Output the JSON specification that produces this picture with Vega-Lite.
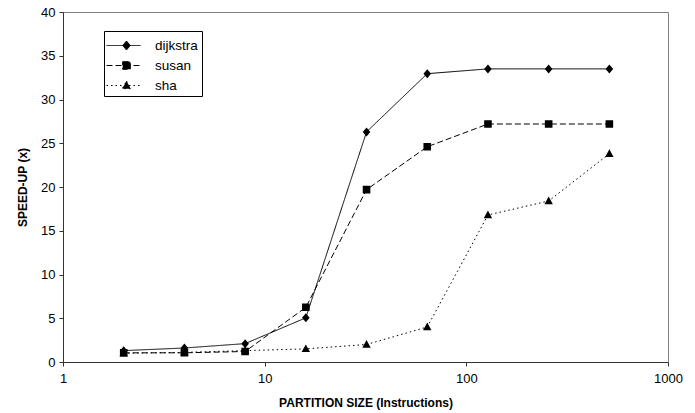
{
  "$schema": "https://vega.github.io/schema/vega-lite/v6.json",
  "width": 605,
  "height": 350,
  "autosize": "none",
  "padding": {"left": 63, "top": 12, "right": 27, "bottom": 51},
  "background": "white",
  "config": {
    "font": "Liberation Sans",
    "view": {"stroke": "#808080", "strokeWidth": 1}
  },
  "data": {
    "values": [
      {"size": 2, "series": "dijkstra", "speedup": 1.3},
      {"size": 4, "series": "dijkstra", "speedup": 1.6},
      {"size": 8, "series": "dijkstra", "speedup": 2.1},
      {"size": 16, "series": "dijkstra", "speedup": 5.05},
      {"size": 32, "series": "dijkstra", "speedup": 26.3},
      {"size": 64, "series": "dijkstra", "speedup": 32.95},
      {"size": 128, "series": "dijkstra", "speedup": 33.5},
      {"size": 256, "series": "dijkstra", "speedup": 33.5},
      {"size": 512, "series": "dijkstra", "speedup": 33.5},
      {"size": 2, "series": "susan", "speedup": 1.05},
      {"size": 4, "series": "susan", "speedup": 1.05},
      {"size": 8, "series": "susan", "speedup": 1.2},
      {"size": 16, "series": "susan", "speedup": 6.25},
      {"size": 32, "series": "susan", "speedup": 19.7},
      {"size": 64, "series": "susan", "speedup": 24.6},
      {"size": 128, "series": "susan", "speedup": 27.2},
      {"size": 256, "series": "susan", "speedup": 27.2},
      {"size": 512, "series": "susan", "speedup": 27.2},
      {"size": 2, "series": "sha", "speedup": 1.0},
      {"size": 4, "series": "sha", "speedup": 1.1},
      {"size": 8, "series": "sha", "speedup": 1.3},
      {"size": 16, "series": "sha", "speedup": 1.5},
      {"size": 32, "series": "sha", "speedup": 2.0},
      {"size": 64, "series": "sha", "speedup": 4.0},
      {"size": 128, "series": "sha", "speedup": 16.8},
      {"size": 256, "series": "sha", "speedup": 18.4},
      {"size": 512, "series": "sha", "speedup": 23.8}
    ]
  },
  "encoding": {
    "x": {
      "field": "size",
      "type": "quantitative",
      "scale": {"type": "log", "domain": [1, 1000], "nice": false},
      "axis": {
        "values": [1, 10, 100, 1000],
        "format": "d",
        "grid": false,
        "labelFlush": false,
        "labelOverlap": false,
        "title": "PARTITION SIZE (Instructions)",
        "titleFont": "Liberation Sans",
        "titleFontSize": 12,
        "titleFontWeight": "bold",
        "titleColor": "black",
        "titlePadding": 12,
        "labelFont": "Liberation Sans",
        "labelFontSize": 13,
        "labelColor": "black",
        "labelPadding": 6,
        "domainColor": "#333",
        "tickColor": "#333",
        "tickSize": 4
      }
    },
    "y": {
      "field": "speedup",
      "type": "quantitative",
      "scale": {"domain": [0, 40], "nice": false},
      "axis": {
        "values": [0, 5, 10, 15, 20, 25, 30, 35, 40],
        "grid": false,
        "labelFlush": false,
        "title": "SPEED-UP (x)",
        "titleFont": "Liberation Sans",
        "titleFontSize": 12,
        "titleFontWeight": "bold",
        "titleColor": "black",
        "titlePadding": 11,
        "labelFont": "Liberation Sans",
        "labelFontSize": 13,
        "labelColor": "black",
        "labelPadding": 4,
        "domainColor": "#333",
        "tickColor": "#333",
        "tickSize": 4
      }
    }
  },
  "layer": [
    {
      "mark": {"type": "line", "color": "black", "strokeWidth": 1},
      "encoding": {
        "strokeDash": {
          "field": "series",
          "type": "nominal",
          "scale": {
            "domain": ["dijkstra", "susan", "sha"],
            "range": [[1, 0], [6, 3], [1.5, 3]]
          },
          "legend": {
            "title": null,
            "orient": "none",
            "legendX": 41,
            "legendY": 19,
            "strokeColor": "black",
            "fillColor": "white",
            "padding": 4,
            "labelFont": "Liberation Sans",
            "labelFontSize": 13.5,
            "labelColor": "black",
            "labelOffset": 18,
            "symbolOffset": 8,
            "rowPadding": 3,
            "symbolSize": 400,
            "symbolFillColor": "black",
            "symbolStrokeColor": "black",
            "symbolStrokeWidth": 1,
            "encode": {
              "symbols": {"update": {"stroke": {"value": "black"}, "strokeWidth": {"value": 1}, "fill": {"value": "black"}}}
            }
          }
        }
      }
    },
    {
      "mark": {"type": "point", "filled": true, "color": "black", "size": 400, "opacity": 1, "strokeWidth": 0},
      "encoding": {
        "shape": {
          "field": "series",
          "type": "nominal",
          "scale": {
            "domain": ["dijkstra", "susan", "sha"],
            "range": [
              "M-2,0L1.4,0M0,-0.45L0.38,0L0,0.45L-0.38,0Z",
              "M-2,0L1.4,0M-0.38,-0.38L0.38,-0.38L0.38,0.38L-0.38,0.38Z",
              "M-2,0L1.4,0M0,-0.45L0.42,0.32L-0.42,0.32Z"
            ]
          },
          "legend": {
            "title": null,
            "orient": "none",
            "legendX": 41,
            "legendY": 19,
            "strokeColor": "black",
            "fillColor": "white",
            "padding": 4,
            "labelFont": "Liberation Sans",
            "labelFontSize": 13.5,
            "labelColor": "black",
            "labelOffset": 18,
            "symbolOffset": 8,
            "rowPadding": 3,
            "symbolSize": 400,
            "symbolFillColor": "black",
            "symbolStrokeColor": "black",
            "symbolStrokeWidth": 1,
            "encode": {
              "symbols": {"update": {"stroke": {"value": "black"}, "strokeWidth": {"value": 1}, "fill": {"value": "black"}}}
            }
          }
        }
      }
    }
  ]
}
